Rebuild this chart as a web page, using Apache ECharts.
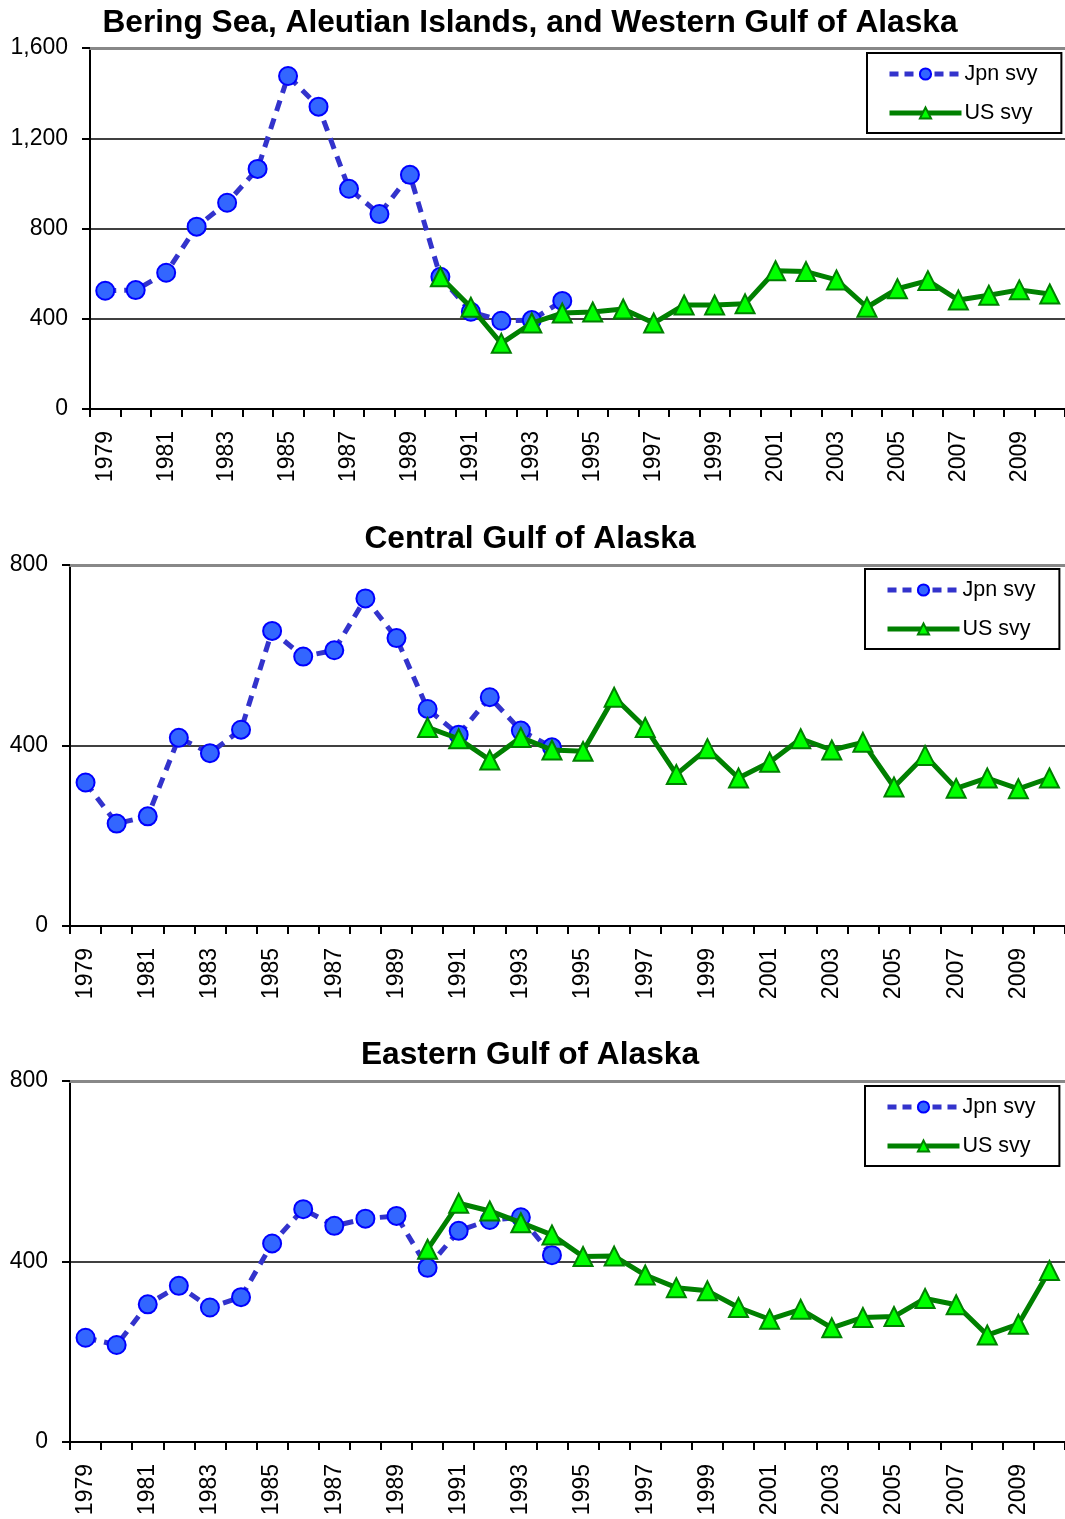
<!DOCTYPE html>
<html>
<head>
<meta charset="utf-8">
<script src="https://cdn.jsdelivr.net/npm/echarts@6/dist/echarts.min.js"></script>
<style>
html,body{margin:0;padding:0;background:#fff;}
#chart{width:1065px;height:1519px;}
</style>
</head>
<body>
<div id="chart"></div>
<script>
// Categories
const years = ['1979','1980','1981','1982','1983','1984','1985','1986','1987','1988','1989','1990','1991','1992','1993','1994','1995','1996','1997','1998','1999','2000','2001','2002','2003','2004','2005','2006','2007','2008','2009','2010'];
const usStartYear = '1990';

// Panel titles
const titles = ['Bering Sea, Aleutian Islands, and Western Gulf of Alaska', 'Central Gulf of Alaska', 'Eastern Gulf of Alaska'];
const seriesNames = ['Jpn svy', 'US svy'];

// Japanese survey (1979-1994)
const bsaiJpn = [524, 527, 604, 808, 914, 1064, 1476, 1340, 976, 864, 1038, 586, 431, 391, 394, 479];
const cgoaJpn = [318, 227, 243, 417, 383, 435, 654, 597, 611, 726, 638, 481, 424, 507, 433, 396];
const egoaJpn = [231, 215, 305, 346, 298, 321, 440, 516, 479, 495, 501, 386, 468, 492, 498, 414];

// US survey (1990-2010)
const bsaiUS = [586, 451, 291, 381, 425, 430, 443, 381, 461, 461, 466, 613, 609, 572, 451, 533, 569, 483, 504, 528, 510];
const cgoaUS = [440, 415, 368, 418, 390, 387, 507, 440, 336, 393, 328, 363, 415, 390, 407, 308, 378, 305, 328, 304, 328];
const egoaUS = [427, 529, 512, 486, 459, 411, 412, 370, 342, 335, 298, 272, 294, 253, 276, 278, 318, 304, 237, 261, 380];

// Y-axis ticks
const bsaiTicks = [0, 400, 800, 1200, 1600];
const goaTicks = [0, 400, 800];

const FONT = 'Arial, "Liberation Sans", Helvetica, sans-serif';

function padUS(arr) {
  const offset = years.indexOf(usStartYear);
  const out = new Array(offset).fill(null);
  return out.concat(arr);
}

const panels = [
  { jpn: bsaiJpn, us: bsaiUS, ticks: bsaiTicks, left: 90, top: 48, titleTop: 2, legendLeft: 867, legendTop: 53 },
  { jpn: cgoaJpn, us: cgoaUS, ticks: goaTicks, left: 70, top: 565, titleTop: 518, legendLeft: 865, legendTop: 569 },
  { jpn: egoaJpn, us: egoaUS, ticks: goaTicks, left: 70, top: 1081, titleTop: 1034, legendLeft: 865, legendTop: 1086 }
];
const plotHeight = 361;

const jpnLine = { color: '#3333CC', width: 5, type: [11, 8] };
const jpnItem = { color: '#3366FF', borderColor: '#0000FF', borderWidth: 2 };
const usLine = { color: '#008000', width: 5 };
const usItem = { color: '#00FF00', borderColor: '#008000', borderWidth: 2 };

const option = {
  animation: false,
  backgroundColor: '#fff',
  title: [], grid: [], xAxis: [], yAxis: [], series: [], legend: []
};

panels.forEach((p, i) => {
  option.title.push({
    text: titles[i],
    left: 525, top: p.titleTop, textAlign: 'center',
    textStyle: { fontFamily: FONT, fontWeight: 'bold', fontSize: 31.7, color: '#000' }
  });
  option.grid.push({
    left: p.left, right: 0, top: p.top, height: plotHeight,
    outerBoundsMode: 'none', containLabel: false
  });
  option.xAxis.push({
    type: 'category', gridIndex: i, data: years, boundaryGap: true,
    axisLine: { show: true, lineStyle: { color: '#000', width: 2 } },
    axisTick: { show: true, inside: false, length: 8, interval: 0, alignWithLabel: false, lineStyle: { color: '#000', width: 2 } },
    axisLabel: { interval: 1, rotate: 90, margin: 22, fontFamily: FONT, fontSize: 23, color: '#000' },
    splitLine: { show: false }
  });
  // top border line (gray)
  option.xAxis.push({
    type: 'category', gridIndex: i, data: years, position: 'top', boundaryGap: true,
    axisLine: { show: true, lineStyle: { color: '#888', width: 3 } },
    axisTick: { show: false }, axisLabel: { show: false }, splitLine: { show: false }
  });
  const max = p.ticks[p.ticks.length - 1];
  option.yAxis.push({
    type: 'value', gridIndex: i, min: p.ticks[0], max: max, interval: p.ticks[1] - p.ticks[0],
    axisLine: { show: true, lineStyle: { color: '#000', width: 2 } },
    axisTick: { show: true, inside: false, length: 8, lineStyle: { color: '#000', width: 2 } },
    axisLabel: {
      margin: 22, fontFamily: FONT, fontSize: 23, color: '#000',
      formatter: v => v.toLocaleString('en-US')
    },
    splitLine: { show: true, lineStyle: { color: '#000', width: 1.5 } }
  });
  option.series.push({
    name: seriesNames[0], type: 'line', xAxisIndex: i * 2, yAxisIndex: i,
    data: p.jpn,
    symbol: 'circle', symbolSize: 18,
    lineStyle: jpnLine,
    itemStyle: jpnItem,
    z: 3
  });
  option.series.push({
    name: seriesNames[1], type: 'line', xAxisIndex: i * 2, yAxisIndex: i,
    data: padUS(p.us),
    symbol: 'triangle', symbolSize: 19,
    lineStyle: usLine,
    itemStyle: usItem,
    z: 4
  });
  option.legend.push({
    show: true,
    data: [
      { name: seriesNames[0], lineStyle: { color: '#3333CC', width: 5, type: [9, 6] }, itemStyle: jpnItem },
      { name: seriesNames[1], lineStyle: { color: '#008000', width: 5 }, itemStyle: usItem }
    ],
    orient: 'vertical',
    left: p.legendLeft, top: p.legendTop,
    backgroundColor: '#fff',
    borderColor: '#000', borderWidth: 2,
    padding: [10, 24, 9, 20],
    itemWidth: 72, itemHeight: 14, itemGap: 17,
    textStyle: { fontFamily: FONT, fontSize: 21.5, color: '#000', padding: [0, 0, 0, -2] },
    selectedMode: false
  });
});

const chart = echarts.init(document.getElementById('chart'), null, { renderer: 'canvas' });
chart.setOption(option);
</script>
</body>
</html>
